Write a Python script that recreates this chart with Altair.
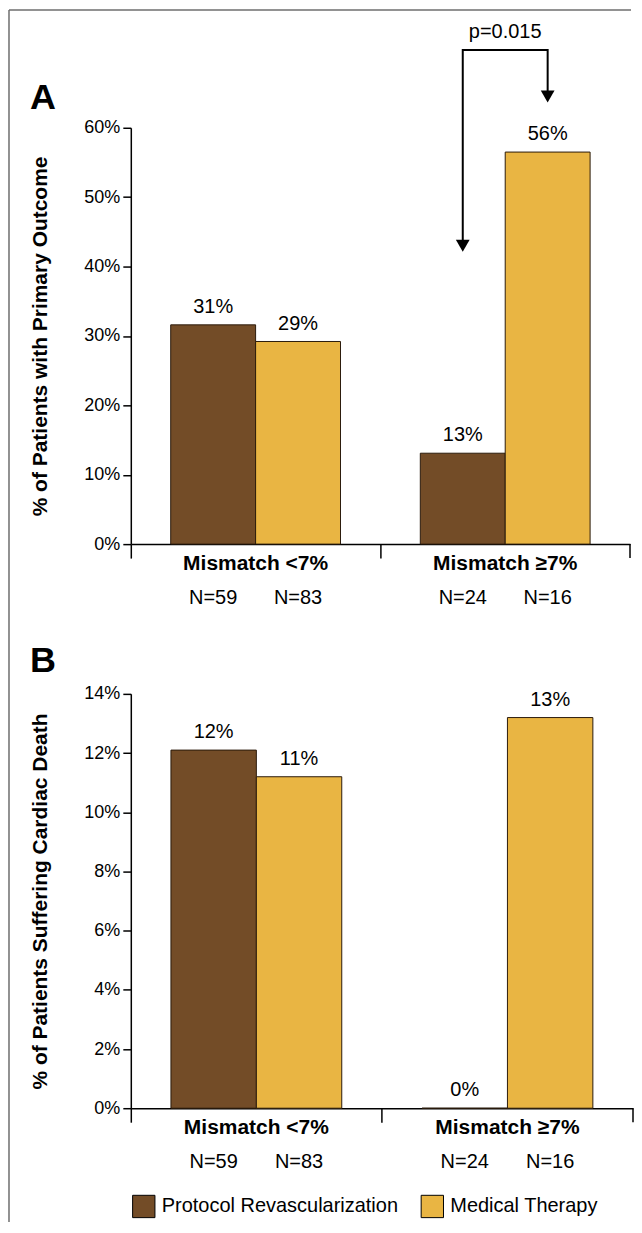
import altair as alt
import pandas as pd

FONT = "Liberation Sans"

# ---- data ----
groups = ["Mismatch <7%", "Mismatch ≥7%"]
arms = ["Protocol Revascularization", "Medical Therapy"]
colors = ["#734c27", "#e9b543"]

bar_group = ["Mismatch <7%", "Mismatch <7%", "Mismatch ≥7%", "Mismatch ≥7%"]
bar_arm = [arms[0], arms[1], arms[0], arms[1]]
n_labels = ["N=59", "N=83", "N=24", "N=16"]

a_values = [31.6, 29.2, 13.1, 56.5]
a_labels = ["31%", "29%", "13%", "56%"]
a_ticks = [0, 10, 20, 30, 40, 50, 60]
a_title = "% of Patients with Primary Outcome"

b_values = [12.1, 11.2, 0.0, 13.2]
b_labels = ["12%", "11%", "0%", "13%"]
b_ticks = [0, 2, 4, 6, 8, 10, 12, 14]
b_title = "% of Patients Suffering Cardiac Death"

panel_letters = ["A", "B"]

# p-value bracket (panel A, in y-axis units)
p_text = "p=0.015"
p_y = 73.8
bracket_order = [0, 1, 2, 3]
bracket_arm = [arms[0], arms[0], arms[1], arms[1]]
bracket_y = [43.0, 71.2, 71.2, 64.5]
arrow_arm = [arms[0], arms[1]]
arrow_y = [43.0, 64.5]


def panel(values, labels, ticks, title, letter, w, h, legend, letter_y, extra_layers=None):
    df = pd.DataFrame({"group": bar_group, "arm": bar_arm, "value": values,
                       "label": labels, "n": n_labels})
    dg = pd.DataFrame({"group": groups})
    one = pd.DataFrame({"k": [0]})

    x = alt.X("group:N", sort=groups,
              scale=alt.Scale(domain=groups, paddingInner=0, paddingOuter=0),
              axis=alt.Axis(title=None, labels=False, bandPosition=0, tickSize=14,
                            tickColor="black", tickWidth=1.5, domainColor="black",
                            domainWidth=1.5, grid=False))
    xo = alt.XOffset("arm:N", sort=arms,
                     scale=alt.Scale(domain=arms, paddingOuter=0.47, paddingInner=0))
    y = alt.Y("value:Q",
              scale=alt.Scale(domain=[0, ticks[-1]], nice=False, zero=True),
              axis=alt.Axis(values=ticks, labelExpr="datum.value + '%'",
                            title=title, titleX=-90, titleY=h / 2, titleAngle=270,
                            titleAlign="center", titleBaseline="middle",
                            titleFontSize=21, titleFontWeight="bold", titleFont=FONT,
                            titleColor="black", labelFontSize=18, labelFont=FONT,
                            labelColor="black", tickSize=8, tickColor="black",
                            tickWidth=1.5, domainColor="black", domainWidth=1.5,
                            labelPadding=3, grid=False))
    color = alt.Color("arm:N", sort=arms,
                      scale=alt.Scale(domain=arms, range=colors), legend=legend)

    base = alt.Chart(df)
    bars = base.mark_bar(stroke="#2b1b0c", strokeWidth=1, opacity=1).encode(
        x=x, xOffset=xo, y=y, color=color)
    vals = base.mark_text(dy=-18, fontSize=20, font=FONT, baseline="middle",
                          color="black").encode(x=x, xOffset=xo, y=y, text="label:N")
    nlab = base.mark_text(fontSize=20, font=FONT, baseline="middle",
                          color="black").encode(x=x, xOffset=xo,
                                                y=alt.value(h + 54), text="n:N")
    cats = alt.Chart(dg).mark_text(fontSize=21, font=FONT, fontWeight="bold",
                                   baseline="middle", color="black").encode(
        x=x, y=alt.value(h + 20), text="group:N")
    endtick = alt.Chart(one).mark_rule(color="black", strokeWidth=1.5).encode(
        x=alt.value(w), y=alt.value(h), y2=alt.value(h + 14))
    let = alt.Chart(pd.DataFrame({"letter": [letter]})).mark_text(
        fontSize=36, font=FONT, fontWeight="bold", baseline="middle",
        align="center", color="black").encode(
        x=alt.value(-88), y=alt.value(letter_y), text="letter:N")

    layers = [bars, vals, nlab, cats, endtick, let]
    if extra_layers:
        layers += extra_layers(x, xo, y)
    return alt.layer(*layers).properties(width=w, height=h)


def bracket_layers(x, xo, y):
    g2 = groups[1]
    bdf = pd.DataFrame({"group": [g2] * 4, "arm": bracket_arm,
                        "value": bracket_y, "order": bracket_order})
    adf = pd.DataFrame({"group": [g2] * 2, "arm": arrow_arm, "value": arrow_y})
    pdf = pd.DataFrame({"group": [g2], "value": [p_y], "label": [p_text]})
    one = pd.DataFrame({"k": [0]})
    line = alt.Chart(bdf).mark_line(color="black", strokeWidth=2,
                                    strokeJoin="miter").encode(
        x=x, xOffset=xo, y=y, order="order:Q")
    heads = alt.Chart(adf).mark_point(shape="triangle-down", filled=True,
                                      color="black", size=190, opacity=1).encode(
        x=x, xOffset=xo, y=y)
    ptxt = alt.Chart(pdf).mark_text(fontSize=20, font=FONT, baseline="middle",
                                    color="black").encode(x=x, y=y, text="label:N")
    frame_top = alt.Chart(one).mark_rule(color="#6e6e6e", strokeWidth=1.5).encode(
        x=alt.value(-122), x2=alt.value(501), y=alt.value(-118))
    frame_left = alt.Chart(one).mark_rule(color="#6e6e6e", strokeWidth=1.5).encode(
        x=alt.value(-122), y=alt.value(-118), y2=alt.value(1096))
    return [line, heads, ptxt, frame_top, frame_left]


legend_b = alt.Legend(orient="none", legendX=1, legendY=501, direction="horizontal",
                      title=None, symbolType="square", symbolSize=500,
                      symbolStrokeColor="black", symbolStrokeWidth=1,
                      symbolOpacity=1, labelFontSize=20, labelFont=FONT,
                      labelColor="black", columnPadding=20, labelOffset=6,
                      labelLimit=0)

chart_a = panel(a_values, a_labels, a_ticks, a_title, panel_letters[0], 500, 417,
                None, -30, bracket_layers)
chart_b = panel(b_values, b_labels, b_ticks, b_title, panel_letters[1], 503, 415,
                legend_b, -33)

chart = alt.vconcat(chart_a, chart_b, spacing=150, bounds="flush").resolve_scale(
    color="independent", x="independent", y="independent", xOffset="independent"
).resolve_legend(color="independent").properties(
    padding=0, background="white"
).configure_view(stroke=None)

chart.save("out.html", embed_options={"renderer": "svg", "actions": False})
